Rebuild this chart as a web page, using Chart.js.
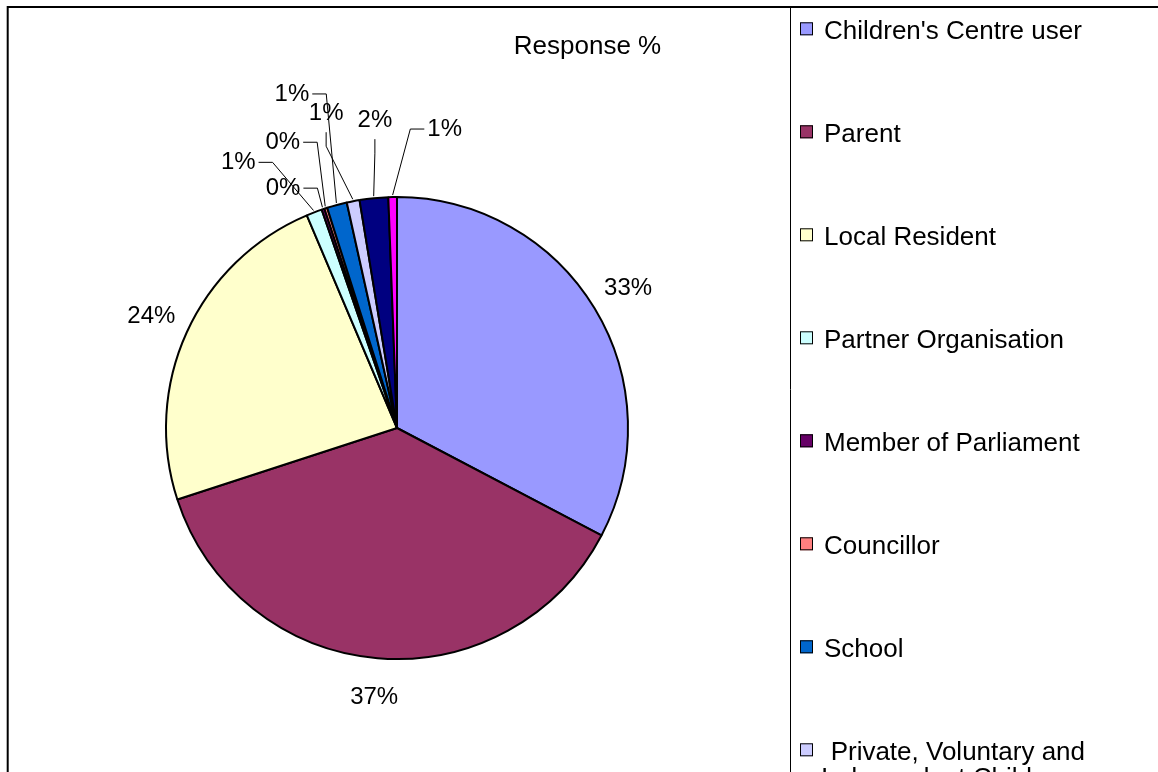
<!DOCTYPE html>
<html>
<head>
<meta charset="utf-8">
<style>
	html, body { margin: 0; padding: 0; background: #fff; overflow: hidden; }
	#wrap { width: 1158px; height: 772px; position: relative; }
</style>
<script src="https://cdn.jsdelivr.net/npm/chart.js@4/dist/chart.umd.min.js"></script>
</head>
<body>
<div id="wrap"><canvas id="chart" width="1158" height="772"></canvas></div>
<script>
'use strict';

// Respondent categories (legend order = slice order, clockwise from 12 o'clock)
var categories = [
	"Children's Centre user",
	'Parent',
	'Local Resident',
	'Partner Organisation',
	'Member of Parliament',
	'Councillor',
	'School',
	'Private, Voluntary and Independent Childcare',
	"Children's Centre Staff",
	'Other'
];

// Response % per category
var responsePct = [32.8, 37.4, 23.7, 1.1, 0.2, 0.2, 1.4, 0.9, 2.0, 0.6];

// Excel-ish default palette
var sliceColours = [
	'#9999FF', '#993366', '#FFFFCC', '#CCFFFF', '#660066',
	'#FF8080', '#0066CC', '#CCCCFF', '#000080', '#FF00FF'
];

var seriesTitle = 'Response %';

var FONT = "'Liberation Sans', Arial, sans-serif";

// Hand-placed labels for the thin slices: [dx, dy] of label centre from the
// slice's outer mid point, and how the leader line leaves the label
var smallLabelPlacement = {
	3: { dx: -76, dy: -50, lead: 'h' },
	4: { dx: -40, dy: -21, lead: 'h' },
	5: { dx: -43, dy: -66, lead: 'h' },
	6: { dx: -45, dy: -111, lead: 'h' },
	7: { dx: -27, dy: -88, lead: 'v' },
	8: { dx: 1, dy: -78, lead: 'v' },
	9: { dx: 52, dy: -68, lead: 'h' }
};

function pctLabel(v, total) {
	return Math.round(v / total * 100) + '%';
}

/**
 * Frame + title + legend, drawn like the old spreadsheet chart
 */
var framePlugin = {
	id: 'frame',
	beforeDraw: function(chart) {
		var ctx = chart.ctx;
		ctx.save();
		ctx.fillStyle = '#fff';
		ctx.fillRect(0, 0, chart.width, chart.height);
		ctx.strokeStyle = '#000';
		ctx.lineWidth = 2;
		ctx.beginPath();
		ctx.moveTo(7.7, chart.height);
		ctx.lineTo(7.7, 7);
		ctx.lineTo(chart.width, 7);
		ctx.stroke();
		ctx.lineWidth = 1;
		ctx.beginPath();
		ctx.moveTo(790.5, 7);
		ctx.lineTo(790.5, chart.height);
		ctx.stroke();
		ctx.restore();
	},
	afterDraw: function(chart) {
		var ctx = chart.ctx;
		var ds = chart.data.datasets[0];
		ctx.save();

		// title
		ctx.fillStyle = '#000';
		ctx.font = '26px ' + FONT;
		ctx.textAlign = 'center';
		ctx.textBaseline = 'alphabetic';
		ctx.fillText(ds.label, 587.5, 54);

		// legend
		var maxTextW = 300;
		chart.data.labels.forEach(function(label, i) {
			var baseY = 39.3 + 103 * i;
			ctx.fillStyle = ds.backgroundColor[i];
			ctx.fillRect(800, baseY - 17, 13, 13);
			ctx.strokeStyle = '#000';
			ctx.lineWidth = 1;
			ctx.strokeRect(800.5, baseY - 16.5, 12, 12);

			// simple word wrap
			var words = label.split(' ');
			var lines = [];
			var cur = '';
			words.forEach(function(w) {
				var t = cur ? cur + ' ' + w : w;
				if (ctx.measureText(t).width > maxTextW && cur) {
					lines.push(cur);
					cur = w;
				} else {
					cur = t;
				}
			});
			lines.push(cur);

			ctx.fillStyle = '#000';
			ctx.textAlign = 'left';
			if (lines.length === 1) {
				ctx.fillText(lines[0], 824, baseY);
			} else {
				var widest = Math.max.apply(null, lines.map(function(l) { return ctx.measureText(l).width; }));
				lines.forEach(function(l, k) {
					var w = ctx.measureText(l).width;
					ctx.fillText(l, 821 + (widest - w) / 2 + (k === 0 ? 6 : 0), baseY + 26 * k);
				});
			}
		});
		ctx.restore();
	}
};

/**
 * Percentage labels with leader lines for the thin slices
 */
var pieLabelsPlugin = {
	id: 'pieLabels',
	afterDatasetsDraw: function(chart) {
		var ctx = chart.ctx;
		var meta = chart.getDatasetMeta(0);
		var values = chart.data.datasets[0].data;
		var total = values.reduce(function(a, b) { return a + b; }, 0);

		ctx.save();
		ctx.font = '24px ' + FONT;
		ctx.fillStyle = '#000';
		ctx.strokeStyle = '#000';
		ctx.lineWidth = 1;
		ctx.textAlign = 'center';
		ctx.textBaseline = 'middle';

		meta.data.forEach(function(arc, i) {
			var mid = (arc.startAngle + arc.endAngle) / 2;
			var r = arc.outerRadius;
			var cos = Math.cos(mid), sin = Math.sin(mid);
			var text = pctLabel(values[i], total);
			var place = smallLabelPlacement[i];

			if (!place) {
				var d = r + 39;
				ctx.fillText(text, arc.x + cos * d, arc.y + sin * d);
				return;
			}

			var ax = arc.x + cos * r, ay = arc.y + sin * r;
			var lx = ax + place.dx, ly = ay + place.dy;
			var tipX = arc.x + cos * (r + 2), tipY = arc.y + sin * (r + 2);
			var halfW = ctx.measureText(text).width / 2;

			ctx.fillText(text, lx, ly);

			ctx.beginPath();
			if (place.lead === 'h') {
				var side = place.dx < 0 ? 1 : -1;
				var sx = lx + side * (halfW + 3);
				ctx.moveTo(sx, ly);
				ctx.lineTo(sx + side * 14, ly);
			} else {
				ctx.moveTo(lx, ly + 19);
				ctx.lineTo(lx, ly + 33);
			}
			ctx.lineTo(tipX, tipY);
			ctx.stroke();
		});
		ctx.restore();
	}
};

var ctx = document.getElementById('chart').getContext('2d');

new Chart(ctx, {
	type: 'pie',
	data: {
		labels: categories,
		datasets: [{
			label: seriesTitle,
			data: responsePct,
			backgroundColor: sliceColours,
			borderColor: '#000',
			borderWidth: 2
		}]
	},
	options: {
		responsive: false,
		animation: false,
		layout: {
			padding: { left: 165, right: 529, top: 196, bottom: 112 }
		},
		plugins: {
			legend: { display: false },
			title: { display: false },
			tooltip: { enabled: false }
		}
	},
	plugins: [framePlugin, pieLabelsPlugin]
});
</script>
</body>
</html>
